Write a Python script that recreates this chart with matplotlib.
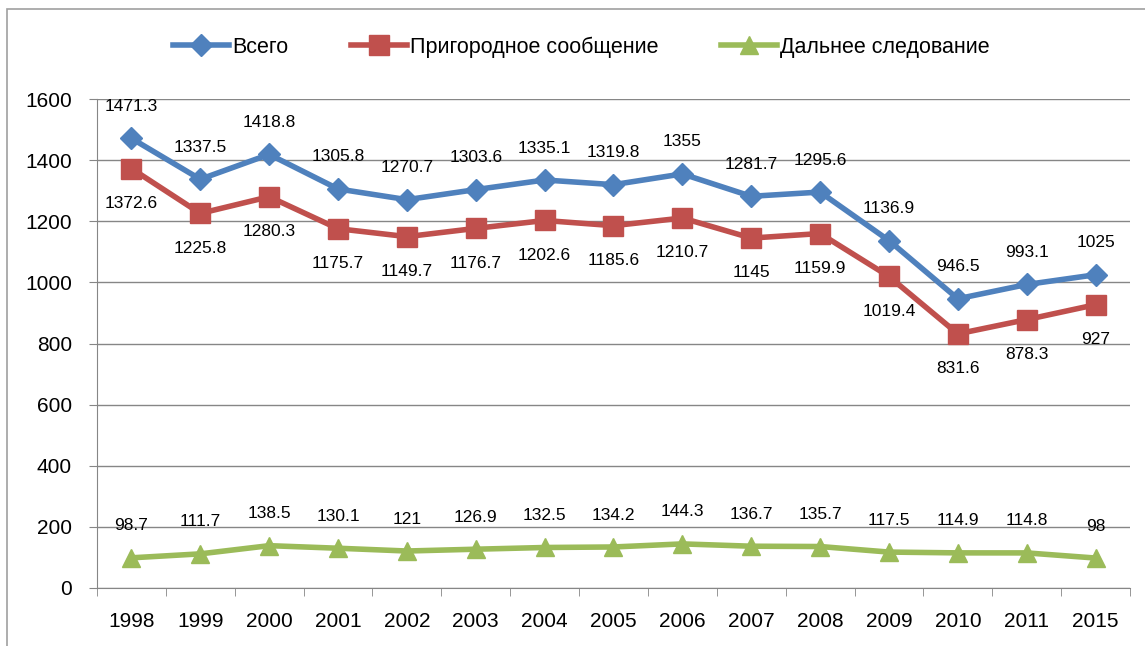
import matplotlib
matplotlib.use('Agg')
import matplotlib.pyplot as plt
from matplotlib.patches import Rectangle

# categories and series
years = ['1998', '1999', '2000', '2001', '2002', '2003', '2004', '2005',
         '2006', '2007', '2008', '2009', '2010', '2011', '2015']
total = [1471.3, 1337.5, 1418.8, 1305.8, 1270.7, 1303.6, 1335.1, 1319.8,
         1355, 1281.7, 1295.6, 1136.9, 946.5, 993.1, 1025]
suburban = [1372.6, 1225.8, 1280.3, 1175.7, 1149.7, 1176.7, 1202.6, 1185.6,
            1210.7, 1145, 1159.9, 1019.4, 831.6, 878.3, 927]
longdist = [98.7, 111.7, 138.5, 130.1, 121, 126.9, 132.5, 134.2,
            144.3, 136.7, 135.7, 117.5, 114.9, 114.8, 98]

plt.rcParams['font.family'] = ['Liberation Sans', 'DejaVu Sans']

fig = plt.figure(figsize=(11.45, 6.46), dpi=100)
ax = fig.add_axes([0.0847, 0.0898, 0.9022, 0.7569])

# outer chart border
fig.patches.append(Rectangle((7 / 1145, -0.1), 1.2, 1 - 9 / 646 + 0.1,
                             transform=fig.transFigure, fill=False,
                             edgecolor='#a0a0a0', linewidth=1.2))

x = list(range(len(years)))
ax.plot(x, total, color='#4F81BD', linewidth=4, marker='D', markersize=11,
        label='Всего', zorder=3)
ax.plot(x, suburban, color='#C0504D', linewidth=4, marker='s', markersize=14,
        label='Пригородное сообщение', zorder=3)
ax.plot(x, longdist, color='#9BBB59', linewidth=4, marker='^', markersize=13,
        label='Дальнее следование', zorder=3)

def fmt(v):
    return ('%g' % v)

for i in x:
    ax.annotate(fmt(total[i]), (i, total[i]), xytext=(0, 23),
                textcoords='offset points', ha='center', va='center', fontsize=12.5)
    ax.annotate(fmt(suburban[i]), (i, suburban[i]), xytext=(0, -25),
                textcoords='offset points', ha='center', va='center', fontsize=12.5)
    ax.annotate(fmt(longdist[i]), (i, longdist[i]), xytext=(0, 23),
                textcoords='offset points', ha='center', va='center', fontsize=12.5)

ax.set_xlim(-0.5, len(years) - 0.5)
ax.set_ylim(0, 1600)
ax.set_yticks(range(0, 1601, 200))
ax.set_xticks(x)
ax.set_xticklabels(years)
ax.set_xticks([i - 0.5 for i in range(len(years) + 1)], minor=True)
ax.tick_params(axis='x', which='major', length=0, pad=17, labelsize=15)
ax.tick_params(axis='x', which='minor', length=6, color='#868686')
ax.tick_params(axis='y', length=6, color='#868686', labelsize=15, pad=12)
ax.yaxis.grid(True, color='#868686', linewidth=1)
ax.set_axisbelow(True)
for s in ['top', 'right']:
    ax.spines[s].set_visible(False)
for s in ['left', 'bottom']:
    ax.spines[s].set_color('#868686')

fig.legend(loc='center', bbox_to_anchor=(0.508, 0.927), ncol=3, frameon=False,
           fontsize=15.5, handlelength=2.6, handletextpad=0.15, columnspacing=2.9)

plt.savefig('out.png', dpi=100)
